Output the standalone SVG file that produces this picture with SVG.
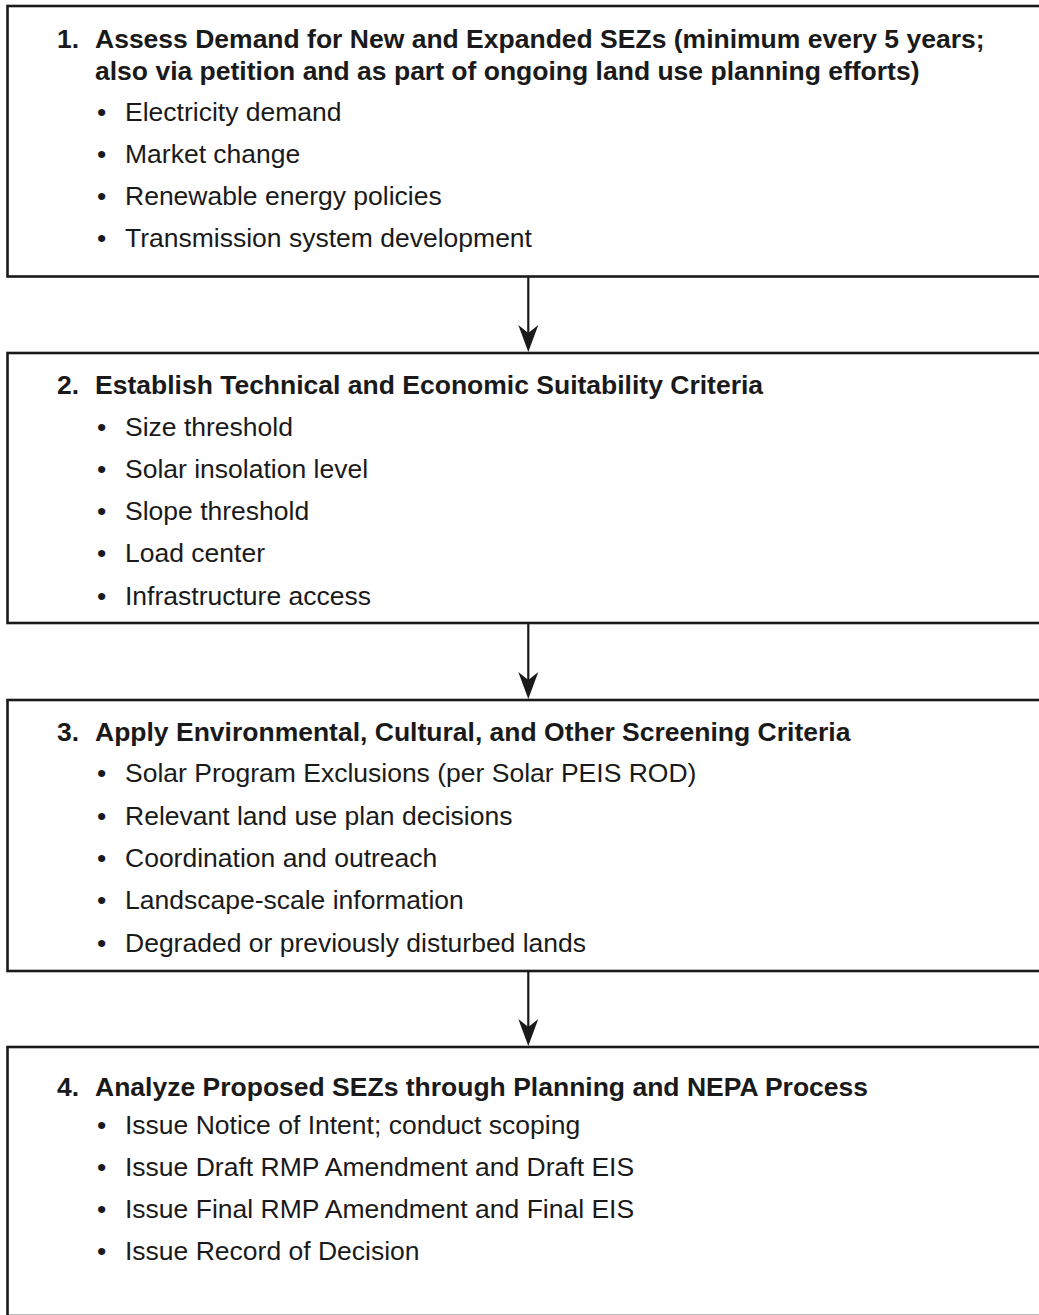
<svg xmlns="http://www.w3.org/2000/svg" width="1039" height="1315" viewBox="0 0 1039 1315">
<style>
.box{fill:#fff;stroke:#1a1a1a;stroke-width:2.6}
.t{font-family:"Liberation Sans",Arial,sans-serif;font-size:26.5px;fill:#1a1a1a}
.b{font-weight:bold}
.line{stroke:#1a1a1a;stroke-width:2.2;fill:none}
.head{fill:#1a1a1a}
</style>
<rect width="1039" height="1315" fill="#fff"/>
<g id="node1">
<rect class="box" x="7.5" y="6" width="1040" height="270.5"/>
<text class="t b" x="57" y="48">1.</text>
<text class="t b" x="95" y="48">Assess Demand for New and Expanded SEZs (minimum every 5 years;</text>
<text class="t b" x="95" y="80">also via petition and as part of ongoing land use planning efforts)</text>
<text class="t" x="97" y="121">•</text><text class="t" x="125" y="121">Electricity demand</text>
<text class="t" x="97" y="163">•</text><text class="t" x="125" y="163">Market change</text>
<text class="t" x="97" y="205">•</text><text class="t" x="125" y="205">Renewable energy policies</text>
<text class="t" x="97" y="247">•</text><text class="t" x="125" y="247">Transmission system development</text>
</g>
<g id="node2">
<rect class="box" x="7.5" y="353" width="1040" height="270"/>
<text class="t b" x="57" y="394">2.</text>
<text class="t b" x="95" y="394">Establish Technical and Economic Suitability Criteria</text>
<text class="t" x="97" y="436">•</text><text class="t" x="125" y="436">Size threshold</text>
<text class="t" x="97" y="478">•</text><text class="t" x="125" y="478">Solar insolation level</text>
<text class="t" x="97" y="520">•</text><text class="t" x="125" y="520">Slope threshold</text>
<text class="t" x="97" y="562">•</text><text class="t" x="125" y="562">Load center</text>
<text class="t" x="97" y="605">•</text><text class="t" x="125" y="605">Infrastructure access</text>
</g>
<g id="node3">
<rect class="box" x="7.5" y="700" width="1040" height="271"/>
<text class="t b" x="57" y="741">3.</text>
<text class="t b" x="95" y="741">Apply Environmental, Cultural, and Other Screening Criteria</text>
<text class="t" x="97" y="782">•</text><text class="t" x="125" y="782">Solar Program Exclusions (per Solar PEIS ROD)</text>
<text class="t" x="97" y="825">•</text><text class="t" x="125" y="825">Relevant land use plan decisions</text>
<text class="t" x="97" y="867">•</text><text class="t" x="125" y="867">Coordination and outreach</text>
<text class="t" x="97" y="909">•</text><text class="t" x="125" y="909">Landscape-scale information</text>
<text class="t" x="97" y="952">•</text><text class="t" x="125" y="952">Degraded or previously disturbed lands</text>
</g>
<g id="node4">
<rect class="box" x="7.5" y="1047" width="1040" height="269"/>
<text class="t b" x="57" y="1096">4.</text>
<text class="t b" x="95" y="1096">Analyze Proposed SEZs through Planning and NEPA Process</text>
<text class="t" x="97" y="1134">•</text><text class="t" x="125" y="1134">Issue Notice of Intent; conduct scoping</text>
<text class="t" x="97" y="1176">•</text><text class="t" x="125" y="1176">Issue Draft RMP Amendment and Draft EIS</text>
<text class="t" x="97" y="1218">•</text><text class="t" x="125" y="1218">Issue Final RMP Amendment and Final EIS</text>
<text class="t" x="97" y="1260">•</text><text class="t" x="125" y="1260">Issue Record of Decision</text>
</g>
<g id="connectors">
<line class="line" x1="528.3" y1="277" x2="528.3" y2="335"/>
<path class="head" d="M528.3,352 L518.3,325 L528.3,333 L538.3,325 Z"/>
<line class="line" x1="528.3" y1="624" x2="528.3" y2="682"/>
<path class="head" d="M528.3,699 L518.3,672 L528.3,680 L538.3,672 Z"/>
<line class="line" x1="528.3" y1="971" x2="528.3" y2="1029"/>
<path class="head" d="M528.3,1046 L518.3,1019 L528.3,1027 L538.3,1019 Z"/>
</g>
</svg>
